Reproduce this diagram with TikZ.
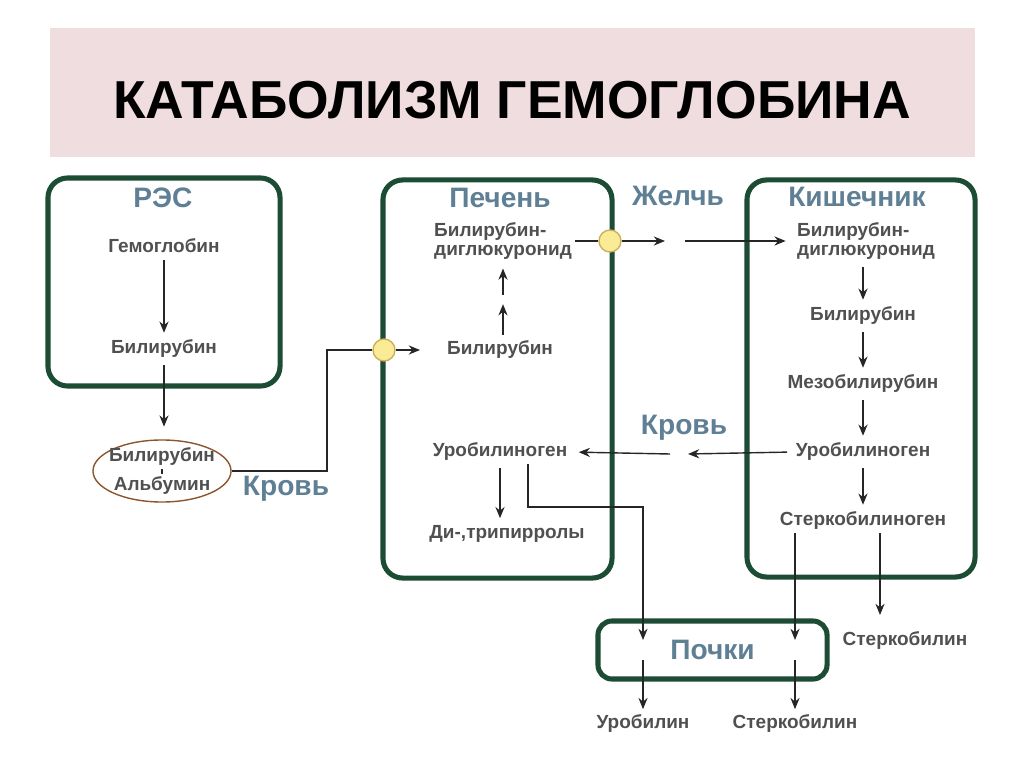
\documentclass[tikz,border=0pt]{standalone}
\usepackage{fontspec}
\setmainfont{Liberation Sans}
\usetikzlibrary{arrows.meta, positioning, calc, shapes.geometric}
\definecolor{organgreen}{RGB}{28,76,52}
\definecolor{headblue}{RGB}{95,128,148}
\definecolor{stagegray}{RGB}{80,80,80}
\definecolor{titlepink}{RGB}{240,221,223}
\definecolor{bulbfill}{RGB}{250,236,150}
\definecolor{bulbrim}{RGB}{205,175,90}
\definecolor{albrim}{RGB}{140,85,45}

\begin{document}
\begin{tikzpicture}[x=0.025cm, y=-0.025cm,
    organ/.style={draw=organgreen, line width=3.6pt, rounded corners=14pt},
    heading/.style={text=headblue, font=\bfseries\fontsize{20}{22}\selectfont},
    stage/.style={text=stagegray, font=\bfseries\fontsize{13.5}{14}\selectfont, inner sep=2pt},
    flow/.style={draw=black!85, line width=1pt, -{Stealth[length=8pt,width=6.5pt]}},
    chain/.style={flow, shorten <=3pt, shorten >=3pt},
    wire/.style={draw=black!85, line width=1pt},
    bulb/.style={circle, fill=bulbfill, draw=bulbrim, line width=1pt, minimum size=0.55cm, inner sep=0pt}]
    \useasboundingbox (0,0) rectangle (1024,767);

    % Title
    \node[fill=titlepink, minimum width=23.125cm, minimum height=3.225cm] (band) at (512.5,92.5) {};
    \node[anchor=base, font=\bfseries\fontsize{38}{42}\selectfont] (title) at (512,119) {КАТАБОЛИЗМ ГЕМОГЛОБИНА};

    % Organs
    \node[organ, minimum width=5.8cm, minimum height=5.2cm] (res) at (164,282) {};
    \node[organ, minimum width=5.725cm, minimum height=9.95cm] (liver) at (497.5,379) {};
    \node[organ, minimum width=5.7cm, minimum height=9.925cm] (gut) at (861,378.5) {};
    \node[organ, rounded corners=10pt, minimum width=5.725cm, minimum height=1.45cm, heading] (kidney) at (712.5,650) {Почки};

    % RES
    \node[heading] (reshead) at (163,198) {РЭС};
    \node[stage] (gem) at (164,246) {Гемоглобин};
    \node[stage] (bilres) at (164,349) {Билирубин};
    \draw[chain] (gem) -- (bilres);

    % Blood (albumin complex)
    \node[draw=albrim, ellipse, line width=1pt, minimum width=3.45cm, minimum height=1.55cm] (carrier) at (162,471) {};
    \node[stage] (albbil) at (162,457) {Билирубин};
    \node[stage] (alb) at (162,486) {Альбумин};
    \draw[wire, line width=0.8pt] (albbil) -- (alb);
    \draw[flow, shorten <=3pt, shorten >=9pt] (bilres) -- (bilres |- carrier.north);
    \node[heading] (blood1) at (286,489) {Кровь};

    % Liver
    \node[heading] (livhead) at (500,198) {Печень};
    \node[stage, align=left] (dglliv) at (503,241) {Билирубин-\\диглюкуронид};
    \node[stage] (billiv) at (500,350) {Билирубин};
    \node[stage] (uroliv) at (500,452) {Уробилиноген};
    \node[stage] (ditri) at (507,534) {Ди-,трипирролы};
    \path (billiv.north -| dglliv) -- coordinate[pos=0.45] (up1) coordinate[pos=0.57] (up2) (dglliv.south);
    \draw[flow, shorten <=2pt] (billiv.north -| dglliv) -- (up1);
    \draw[flow, shorten >=4pt] (up2) -- (dglliv.south);
    \draw[chain] (uroliv.south) -- (uroliv.south |- ditri.north);

    % Gut
    \node[heading] (guthead) at (857,197) {Кишечник};
    \node[stage, align=left] (dglgut) at (866,241) {Билирубин-\\диглюкуронид};
    \node[stage] (bilgut) at (863,316) {Билирубин};
    \node[stage] (mezo) at (863,384) {Мезобилирубин};
    \node[stage] (urogut) at (863,452) {Уробилиноген};
    \node[stage] (sterkgut) at (863,521) {Стеркобилиноген};
    \draw[chain] (dglgut.south -| bilgut) -- (bilgut);
    \draw[chain] (bilgut) -- (mezo);
    \draw[chain] (mezo) -- (urogut);
    \draw[chain] (urogut) -- (sterkgut);

    % Blood into liver
    \coordinate (bend1) at (327,468);
    \node[bulb] (jct1) at (384,350) {};
    \coordinate (liventry) at (420,350);
    \draw[wire] (carrier.east) -- (carrier.east -| bend1) -- (bend1 |- jct1) -- (jct1);
    \draw[flow] (jct1) -- (liventry);

    % Bile
    \node[heading] (bile) at (678,196) {Желчь};
    \node[bulb] (jct2) at (610,241) {};
    \coordinate (gapA) at (665,241);
    \coordinate (gapB) at (685,241);
    \draw[wire] (dglliv.east) -- (jct2);
    \draw[flow] (jct2) -- (gapA);
    \draw[flow, shorten >=6pt] (gapB) -- (dglgut.west);

    % Blood back to liver
    \node[heading] (blood2) at (684,428) {Кровь};
    \coordinate (gapC) at (688,454);
    \coordinate (gapD) at (670,454);
    \draw[flow, shorten <=4pt] (urogut.west) -- (gapC);
    \draw[flow, shorten >=6pt] (gapD) -- (uroliv.east);

    % Kidney and excretion
    \coordinate (turnA) at (528,507);
    \coordinate (kidA) at (643,640);
    \coordinate (kidB) at (643,660);
    \coordinate (kidC) at (795,640);
    \coordinate (kidD) at (795,660);
    \coordinate (fecal) at (880,615);
    \node[stage] (urobilin) at (643,724) {Уробилин};
    \node[stage] (sterkurine) at (795,724) {Стеркобилин};
    \node[stage] (sterkfecal) at (905,641) {Стеркобилин};
    \draw[flow] (uroliv.south -| turnA) -- (turnA) -| (kidA);
    \draw[flow, shorten >=2pt] (kidB) -- (urobilin);
    \draw[flow] (sterkgut.south -| kidC) -- (kidC);
    \draw[flow, shorten >=2pt] (kidD) -- (sterkurine);
    \draw[flow] (sterkgut.south -| fecal) -- (fecal);
\end{tikzpicture}
\end{document}
